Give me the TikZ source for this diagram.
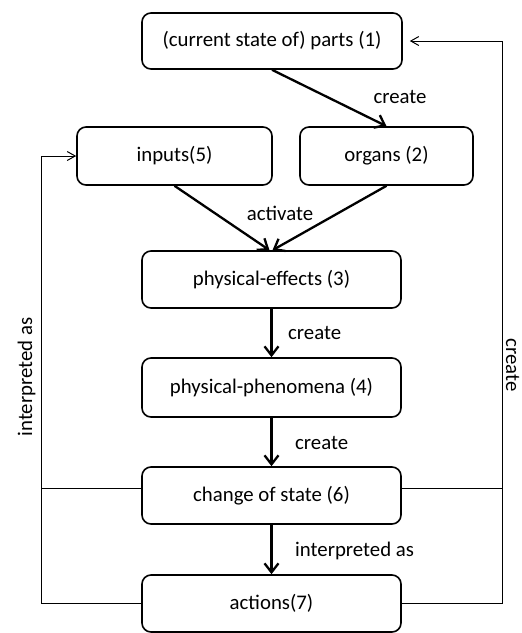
\documentclass[tikz,border=0pt]{standalone}
\usepackage{fontspec}
\setmainfont{Carlito}
\usetikzlibrary{arrows.meta}
\begin{document}
\begin{tikzpicture}[x=1pt,y=-1pt,
  box/.style={draw, line width=1.6pt, rounded corners=9pt, minimum width=259pt, minimum height=57pt, inner sep=0pt, font=\fontsize{20.8}{25}\selectfont},
  lbl/.style={inner sep=0pt, font=\fontsize{20.8}{25}\selectfont},
  flow/.style={line width=2.3pt, -{Straight Barb[length=9pt,width=14pt,line width=2.3pt]}},
  loop/.style={line width=1pt},
  looparrow/.style={line width=1pt, -{Straight Barb[length=8pt,width=9pt,line width=1pt]}}]
\useasboundingbox (0,0) rectangle (522,633);
\node[box, minimum width=260pt, minimum height=56pt] (parts) at (272,41) {(current state of) parts (1)};
\node[box, minimum width=195pt, minimum height=58pt] (inputs) at (174.5,156) {inputs(5)};
\node[box, minimum width=173pt, minimum height=58pt] (organs) at (386.5,156) {organs (2)};
\node[box] (effects) at (271.5,279.5) {physical-effects (3)};
\node[box, minimum height=59pt] (phen) at (271.5,387.5) {physical-phenomena (4)};
\node[box] (cos) at (271.5,495.5) {change of state (6)};
\node[box] (act) at (271.5,603.5) {actions(7)};
% main flow
\draw[flow] (parts.south) -- (organs.north);
\draw[flow] (inputs.south) -- ([xshift=-2pt]effects.north);
\draw[flow] (organs.south) -- ([xshift=1pt]effects.north);
\draw[flow] (effects) -- (phen);
\draw[flow] (phen) -- (cos);
\draw[flow] (cos) -- (act);
% labels
\node[lbl] (l1) at (400,97) {create};
\node[lbl] (l2) at (280,213) {activate};
\node[lbl, anchor=west] (l3) at (288,333) {create};
\node[lbl, anchor=west] (l4) at (295,443) {create};
\node[lbl, anchor=west] (l5) at (295,551) {interpreted as};
\node[lbl, rotate=90, anchor=base] (l6) at (32,377) {interpreted as};
\node[lbl, rotate=-90, anchor=base] (l7) at (506,365) {create};
% left loop
\coordinate (lc) at (41,604);
\coordinate (rc) at (502,604);
\draw[loop] ([yshift=7.5pt]cos.west) -- ([yshift=7.5pt]cos.west -| lc);
\draw[looparrow] (act.west) -| (lc |- inputs.west) -- (inputs.west);
% right loop
\draw[loop] ([yshift=7.5pt]cos.east) -- ([yshift=7.5pt]cos.east -| rc);
\draw[looparrow, shorten >=7pt] (act.east) -| (rc |- parts.east) -- (parts.east);
\end{tikzpicture}
\end{document}
